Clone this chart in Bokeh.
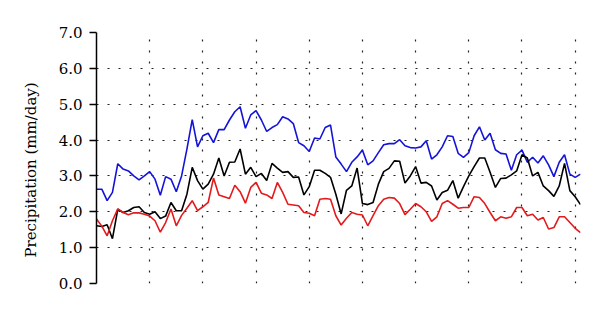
import math
from bokeh.plotting import figure
from bokeh.models import Range1d, FixedTicker, ColumnDataSource
from bokeh.embed import file_html
from bokeh.resources import INLINE

# x index (no x tick labels in the original)
blue = [2.63, 2.63, 2.31, 2.54, 3.34, 3.19, 3.14, 3.00, 2.89, 3.00,
        3.12, 2.91, 2.46, 2.98, 2.91, 2.56, 3.00, 3.75, 4.57, 3.81,
        4.12, 4.19, 3.93, 4.29, 4.29, 4.56, 4.79, 4.93, 4.33, 4.70,
        4.82, 4.56, 4.24, 4.35, 4.43, 4.65, 4.59, 4.46, 3.93, 3.84,
        3.68, 4.06, 4.03, 4.35, 4.42, 3.53, 3.33, 3.12, 3.38, 3.53,
        3.72, 3.31, 3.42, 3.65, 3.87, 3.90, 3.90, 4.01, 3.84, 3.79,
        3.78, 3.81, 3.98, 3.47, 3.59, 3.81, 4.12, 4.10, 3.63, 3.52,
        3.65, 4.12, 4.37, 4.00, 4.19, 3.73, 3.63, 3.61, 3.16, 3.59,
        3.72, 3.38, 3.52, 3.36, 3.56, 3.31, 2.98, 3.38, 3.59, 3.05,
        2.96, 3.05]
black = [1.61, 1.59, 1.64, 1.25, 2.07, 1.98, 2.03, 2.12, 2.14, 1.98,
         1.93, 2.00, 1.81, 1.88, 2.26, 2.03, 2.03, 2.49, 3.24, 2.87,
         2.63, 2.77, 3.05, 3.50, 3.00, 3.38, 3.39, 3.75, 3.05, 3.24,
         2.98, 3.07, 2.87, 3.35, 3.22, 3.10, 3.12, 2.96, 2.97, 2.47,
         2.70, 3.16, 3.16, 3.07, 2.96, 2.49, 1.94, 2.60, 2.72, 3.22,
         2.23, 2.20, 2.26, 2.77, 3.12, 3.21, 3.42, 3.41, 2.80, 3.00,
         3.26, 2.80, 2.82, 2.72, 2.33, 2.54, 2.60, 2.87, 2.38, 2.70,
         3.00, 3.26, 3.50, 3.50, 3.10, 2.68, 2.93, 2.94, 3.03, 3.14,
         3.59, 3.50, 3.00, 3.10, 2.72, 2.59, 2.43, 2.72, 3.35, 2.59,
         2.42, 2.20]
red = [1.80, 1.60, 1.33, 1.75, 2.08, 1.98, 1.92, 1.97, 1.97, 1.93,
       1.88, 1.75, 1.43, 1.70, 2.08, 1.61, 1.90, 2.10, 2.31, 2.03,
       2.14, 2.26, 2.94, 2.47, 2.42, 2.37, 2.74, 2.56, 2.24, 2.68,
       2.82, 2.52, 2.47, 2.37, 2.82, 2.54, 2.21, 2.19, 2.17, 1.98,
       1.96, 1.89, 2.35, 2.37, 2.35, 1.89, 1.63, 1.82, 1.98, 1.93,
       1.91, 1.61, 1.89, 2.17, 2.35, 2.40, 2.38, 2.23, 1.92, 2.07,
       2.23, 2.14, 2.00, 1.73, 1.86, 2.23, 2.31, 2.21, 2.10, 2.12,
       2.12, 2.42, 2.40, 2.23, 1.98, 1.75, 1.86, 1.82, 1.86, 2.12,
       2.12, 1.89, 1.93, 1.77, 1.84, 1.52, 1.56, 1.86, 1.86, 1.70,
       1.54, 1.42]
x = list(range(len(blue)))
y_ticks = [0, 1, 2, 3, 4, 5, 6, 7]
x_grid = [0, 10, 20, 30, 40, 50, 60, 70, 80, 90]
y_label = "Precipitation (mm/day)"

FONT = "DejaVu Serif"

p = figure(width=600, height=314, output_backend="svg", toolbar_location=None,
           x_range=Range1d(0, 91), y_range=Range1d(0, 7),
           min_border_left=96, min_border_right=20, min_border_top=32,
           min_border_bottom=31)
p.outline_line_color = None
p.background_fill_color = "white"
p.border_fill_color = "white"

p.xaxis.visible = False
p.yaxis.ticker = FixedTicker(ticks=y_ticks)
p.yaxis.major_label_overrides = {t: f"{t:.1f}" for t in y_ticks}
p.yaxis.major_label_text_font = FONT
p.yaxis.major_label_text_font_size = "15px"
p.yaxis.major_label_text_color = "black"
p.yaxis.major_tick_out = 7
p.yaxis.major_tick_in = 0
p.yaxis.minor_tick_out = 0
p.yaxis.minor_tick_in = 0
p.yaxis.major_label_standoff = 7
p.yaxis.axis_line_color = "black"
p.yaxis.axis_line_width = 1.5
p.yaxis.major_tick_line_width = 1.5
# trailing no-break spaces shift the visible label down, as in the original
p.yaxis.axis_label = y_label + "\u00a0" * 5
p.yaxis.axis_label_text_font = FONT
p.yaxis.axis_label_text_font_size = "15px"
p.yaxis.axis_label_text_font_style = "normal"
p.yaxis.axis_label_text_color = "black"
p.yaxis.axis_label_standoff = 16

p.ygrid.ticker = FixedTicker(ticks=y_ticks)
p.ygrid.grid_line_color = "#222222"
p.ygrid.grid_line_dash = "2 9"
p.ygrid.grid_line_width = 1.2
p.xgrid.ticker = FixedTicker(ticks=x_grid)
p.xgrid.grid_line_color = "#222222"
p.xgrid.grid_line_dash = "2 9"
p.xgrid.grid_line_width = 1.2

src = ColumnDataSource(dict(x=x, blue=blue, black=black, red=red))
p.line("x", "blue", source=src, line_color="#1414d8", line_width=1.6)
p.line("x", "black", source=src, line_color="black", line_width=1.6)
p.line("x", "red", source=src, line_color="#e31a1c", line_width=1.6)

open("out.html", "w").write(file_html(p, INLINE))
